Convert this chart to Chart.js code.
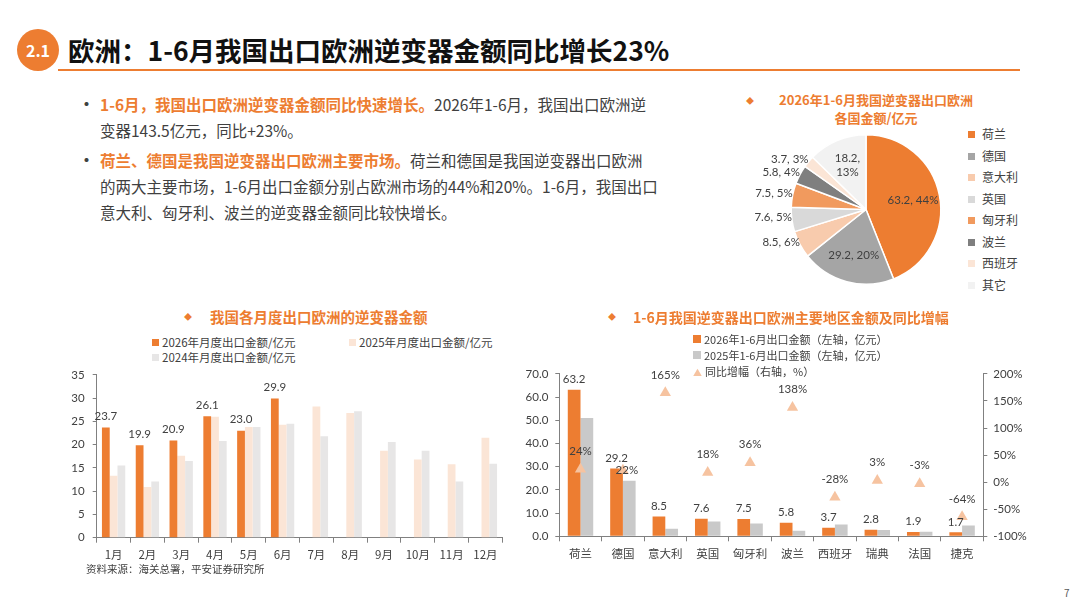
<!DOCTYPE html>
<html><head><meta charset="utf-8">
<script src="https://cdn.jsdelivr.net/npm/chart.js@4/dist/chart.umd.min.js"></script>
<style>
body{margin:0;background:#fff;}
#slide{position:relative;width:1080px;height:608px;overflow:hidden;font-family:"Noto Sans CJK SC","Noto Sans",sans-serif;color:#404040;}
.abs{position:absolute;white-space:nowrap;}
#badge{left:17px;top:29px;width:42px;height:42px;border-radius:50%;background:#ED7D31;color:#fff;font:bold 16px "Noto Sans CJK SC",sans-serif;line-height:42px;text-align:center;}
#title{left:68px;top:33px;font-weight:bold;font-size:26.5px;line-height:34px;color:#111;}
#rule{left:58px;top:69px;width:962px;height:2px;background:#ED7D31;}
.bul{font-size:15.5px;line-height:26px;}
.dot{font-size:19px;line-height:26px;}
.hl{color:#ED7D31;font-weight:bold;}
.ctitle{font-weight:bold;color:#ED7D31;font-size:14px;line-height:18px;}
.dia{color:#ED7D31;font-size:8px;line-height:18px;}
.lg{font-size:11.5px;line-height:14px;}
.sq{display:inline-block;width:7px;height:7px;margin-right:3px;vertical-align:1px;}
.plg{font-size:12px;line-height:16px;}
.psq{display:inline-block;width:7px;height:7px;margin-right:7px;vertical-align:1px;}
</style></head><body>
<div id="slide">
 <div class="abs" id="badge">2.1</div>
 <div class="abs" id="title">欧洲：1-6月我国出口欧洲逆变器金额同比增长23%</div>
 <div class="abs" id="rule"></div>

 <div class="abs dot" style="left:77px;top:91px;">•</div>
 <div class="abs bul" style="left:100px;top:91px;"><span class="hl">1-6月，我国出口欧洲逆变器金额同比快速增长。</span>2026年1-6月，我国出口欧洲逆<br>变器143.5亿元，同比+23%。</div>
 <div class="abs dot" style="left:77px;top:147px;">•</div>
 <div class="abs bul" style="left:100px;top:147px;"><span class="hl">荷兰、德国是我国逆变器出口欧洲主要市场。</span>荷兰和德国是我国逆变器出口欧洲<br>的两大主要市场，1-6月出口金额分别占欧洲市场的44%和20%。1-6月，我国出口<br>意大利、匈牙利、波兰的逆变器金额同比较快增长。</div>

 <!-- pie -->
 <div class="abs dia" style="left:746px;top:92px;">◆</div>
 <div class="abs ctitle" style="left:770px;top:91px;width:212px;text-align:center;font-size:13px;line-height:17.5px;">2026年1-6月我国逆变器出口欧洲<br>各国金额/亿元</div>
 <div class="abs" style="left:740px;top:120px;width:220px;height:180px;"><canvas id="c3" width="220" height="180"></canvas></div>
 <div class="abs" id="pieLegend" style="left:968px;top:126px;"></div>

 <!-- monthly -->
 <div class="abs dia" style="left:184px;top:308px;">◆</div>
 <div class="abs ctitle" style="left:210px;top:308px;font-size:14.5px;">我国各月度出口欧洲的逆变器金额</div>
 <div class="abs lg" style="left:152px;top:335px;"><span class="sq" style="background:#ED7D31"></span>2026年月度出口金额/亿元</div>
 <div class="abs lg" style="left:349px;top:335px;"><span class="sq" style="background:#FBE5D6"></span>2025年月度出口金额/亿元</div>
 <div class="abs lg" style="left:152px;top:350px;"><span class="sq" style="background:#E7E6E6"></span>2024年月度出口金额/亿元</div>
 <div class="abs" style="left:40px;top:360px;width:480px;height:210px;"><canvas id="c1" width="480" height="210"></canvas></div>
 <div class="abs" style="left:86px;top:562px;font-size:10.5px;line-height:14px;">资料来源：海关总署，平安证券研究所</div>

 <!-- country -->
 <div class="abs dia" style="left:608px;top:308px;">◆</div>
 <div class="abs ctitle" style="left:633px;top:308px;">1-6月我国逆变器出口欧洲主要地区金额及同比增幅</div>
 <div class="abs lg" style="left:693px;top:332px;font-size:11px;"><span class="sq" style="background:#ED7D31;width:8px;height:8px;"></span>2026年1-6月出口金额（左轴，亿元）</div>
 <div class="abs lg" style="left:693px;top:348px;font-size:11px;"><span class="sq" style="background:#C9C9C9;width:8px;height:8px;"></span>2025年1-6月出口金额（左轴，亿元）</div>
 <div class="abs lg" style="left:693px;top:364px;font-size:11px;"><span style="color:#F6C3A0;font-size:9px;margin-right:3px;">▲</span>同比增幅（右轴，%）</div>
 <div class="abs" style="left:510px;top:360px;width:560px;height:210px;"><canvas id="c2" width="560" height="210"></canvas></div>

 <div class="abs" style="left:1064px;top:585px;font-size:10px;color:#595959;">7</div>
</div>
<script>
const months = ['1月','2月','3月','4月','5月','6月','7月','8月','9月','10月','11月','12月'];
const exp2026 = [23.7,19.9,20.9,26.1,23.0,29.9];
const exp2025 = [13.3,10.9,17.6,26.0,23.8,24.3,28.2,26.8,18.7,16.8,15.8,21.5];
const exp2024 = [15.5,12.1,16.5,20.8,23.8,24.5,21.8,27.2,20.6,18.7,12.1,15.9];
const monthTicks = {min:0, max:35, step:5};

const countries = ['荷兰','德国','意大利','英国','匈牙利','波兰','西班牙','瑞典','法国','捷克'];
const h1_2026 = [63.2,29.2,8.5,7.6,7.5,5.8,3.7,2.8,1.9,1.7];
const h1_2025 = [51.0,23.9,3.3,6.4,5.5,2.4,5.1,2.7,2.0,4.7];
const yoyPct = [24,22,165,18,36,138,-28,3,-3,-64];
const leftTicks = {min:0, max:70, step:10};
const rightTicks = {min:-100, max:200, step:50};

const pieLabels = ['荷兰','德国','意大利','英国','匈牙利','波兰','西班牙','其它'];
const pieValues = [63.2,29.2,8.5,7.6,7.5,5.8,3.7,18.2];
const pieColors = ['#ED7D31','#A5A5A5','#F8CBAD','#D9D9D9','#F19A5E','#7F7F7F','#FBE5D6','#F2F2F2'];

const NUMF = 'Lato, "Noto Sans CJK SC", sans-serif';
const CJKF = '"Noto Sans CJK SC", sans-serif';
const TXT = '#404040';
const AX = '#808080';

document.getElementById('pieLegend').innerHTML = pieLabels.map((l,i)=>
  `<div class="plg" style="margin-bottom:5.5px;"><span class="psq" style="background:${pieColors[i]}"></span>${l}</div>`).join('');

const valueLabels = {
  id:'valueLabels',
  afterDatasetsDraw(chart){
    const ctx = chart.ctx;
    chart.data.datasets.forEach((ds,di)=>{
      if(!ds.showValues) return;
      const meta = chart.getDatasetMeta(di);
      ctx.save();
      ctx.font = ds.valueFont || ('11.5px ' + NUMF);
      ctx.fillStyle = TXT; ctx.textAlign='center'; ctx.textBaseline='middle';
      meta.data.forEach((el,i)=>{
        const v = ds.data[i]; if(v==null) return;
        const t = ds.valueSuffix ? (v + ds.valueSuffix) : v.toFixed(1);
        const adj = (ds.labelAdjust && ds.labelAdjust[i]) || {dx:0, dy:0};
        ctx.fillText(t, el.x + adj.dx, el.y - ds.valueOffset + adj.dy);
      });
      ctx.restore();
    });
  }
};

new Chart(document.getElementById('c1'), {
  type:'bar',
  data:{labels:months, datasets:[
    {label:'2026年月度出口金额/亿元', data:exp2026, backgroundColor:'#ED7D31', showValues:true, valueOffset:11},
    {label:'2025年月度出口金额/亿元', data:exp2025, backgroundColor:'#FBE5D6'},
    {label:'2024年月度出口金额/亿元', data:exp2024, backgroundColor:'#E7E6E6'}
  ]},
  options:{
    responsive:false, animation:false,
    layout:{padding:{top:12.7,left:0,right:17.7,bottom:0}},
    plugins:{legend:{display:false}, tooltip:{enabled:false}},
    datasets:{bar:{categoryPercentage:0.69, barPercentage:1}},
    scales:{
      x:{grid:{display:true, drawOnChartArea:false, offset:true, tickLength:5, color:AX},
         border:{color:AX}, ticks:{font:{size:11.5, family:CJKF}, color:TXT, padding:5},
         afterFit(s){s.height=32.3;}},
      y:{min:monthTicks.min, max:monthTicks.max,
         grid:{drawOnChartArea:false, tickLength:4, color:AX}, border:{color:AX},
         ticks:{stepSize:monthTicks.step, font:{size:11.5, family:NUMF}, color:TXT, padding:8},
         afterFit(s){s.width=56.7;}}
    }
  },
  plugins:[valueLabels]
});

new Chart(document.getElementById('c2'), {
  type:'bar',
  data:{labels:countries, datasets:[
    {type:'line', label:'同比增幅（右轴，%）', data:yoyPct, yAxisID:'y1', showLine:false,
     pointStyle:'triangle', pointRadius:6.5, pointBackgroundColor:'#F6C3A0', pointBorderWidth:0,
     borderColor:'#F6C3A0', order:0, showValues:true, valueOffset:18, valueSuffix:'%',
     labelAdjust:{1:{dx:4, dy:18}}},
    {label:'2026年1-6月出口金额（左轴，亿元）', data:h1_2026, backgroundColor:'#ED7D31', yAxisID:'y', order:1, showValues:true, valueOffset:10.5},
    {label:'2025年1-6月出口金额（左轴，亿元）', data:h1_2025, backgroundColor:'#C9C9C9', yAxisID:'y', order:1}
  ]},
  options:{
    responsive:false, animation:false,
    layout:{padding:{top:12,left:0,right:0,bottom:0}},
    plugins:{legend:{display:false}, tooltip:{enabled:false}},
    datasets:{bar:{categoryPercentage:0.6, barPercentage:1}},
    scales:{
      x:{grid:{display:true, drawOnChartArea:false, offset:true, tickLength:5, color:AX},
         border:{color:AX}, ticks:{font:{size:11.5, family:CJKF}, color:TXT, padding:5},
         afterFit(s){s.height=33.7;}},
      y:{position:'left', min:leftTicks.min, max:leftTicks.max,
         grid:{drawOnChartArea:false, tickLength:4, color:AX}, border:{color:AX},
         ticks:{stepSize:leftTicks.step, font:{size:11.5, family:NUMF}, color:TXT, padding:7, callback:v=>v.toFixed(1)},
         afterFit(s){s.width=49.3;}},
      y1:{position:'right', min:rightTicks.min, max:rightTicks.max,
         grid:{drawOnChartArea:false, tickLength:4, color:AX}, border:{color:AX},
         ticks:{stepSize:rightTicks.step, font:{size:11.5, family:NUMF}, color:TXT, padding:6, callback:v=>v+'%'},
         afterFit(s){s.width=86.7;}}
    }
  },
  plugins:[valueLabels]
});

const pieLabelPlugin = {
  id:'pieLabels',
  afterDatasetsDraw(chart){
    const ctx = chart.ctx;
    const meta = chart.getDatasetMeta(0);
    const data = chart.data.datasets[0].data;
    const total = data.reduce((a,b)=>a+b,0);
    ctx.save();
    ctx.font = '11.5px ' + NUMF; ctx.fillStyle = TXT; ctx.textBaseline='middle';
    meta.data.forEach((arc,i)=>{
      const p = arc.getProps(['x','y','startAngle','endAngle','outerRadius'], true);
      const mid = (p.startAngle + p.endAngle)/2;
      const share = data[i]/total;
      const v = data[i].toFixed(1), pc = Math.round(share*100)+'%';
      if(share > 0.1){
        const r = p.outerRadius*0.64;
        const x = p.x + Math.cos(mid)*r, y = p.y + Math.sin(mid)*r;
        ctx.textAlign='center';
        if(p.endAngle - p.startAngle < Math.PI/3){
          ctx.fillText(v+',', x, y-7); ctx.fillText(pc, x, y+7);
        } else ctx.fillText(v+', '+pc, x, y);
      } else {
        const r = p.outerRadius;
        const x = p.x + Math.cos(mid)*r, y = p.y + Math.sin(mid)*r - 2;
        ctx.textAlign='right';
        ctx.fillText(v+', '+pc, x, y);
      }
    });
    ctx.restore();
  }
};

new Chart(document.getElementById('c3'), {
  type:'pie',
  data:{labels:pieLabels, datasets:[{data:pieValues, backgroundColor:pieColors, borderColor:'#fff', borderWidth:1.5}]},
  options:{
    responsive:false, animation:false,
    layout:{padding:{left:50.5, top:14, right:18.5, bottom:15}},
    plugins:{legend:{display:false}, tooltip:{enabled:false}}
  },
  plugins:[pieLabelPlugin]
});
</script>
</body></html>
